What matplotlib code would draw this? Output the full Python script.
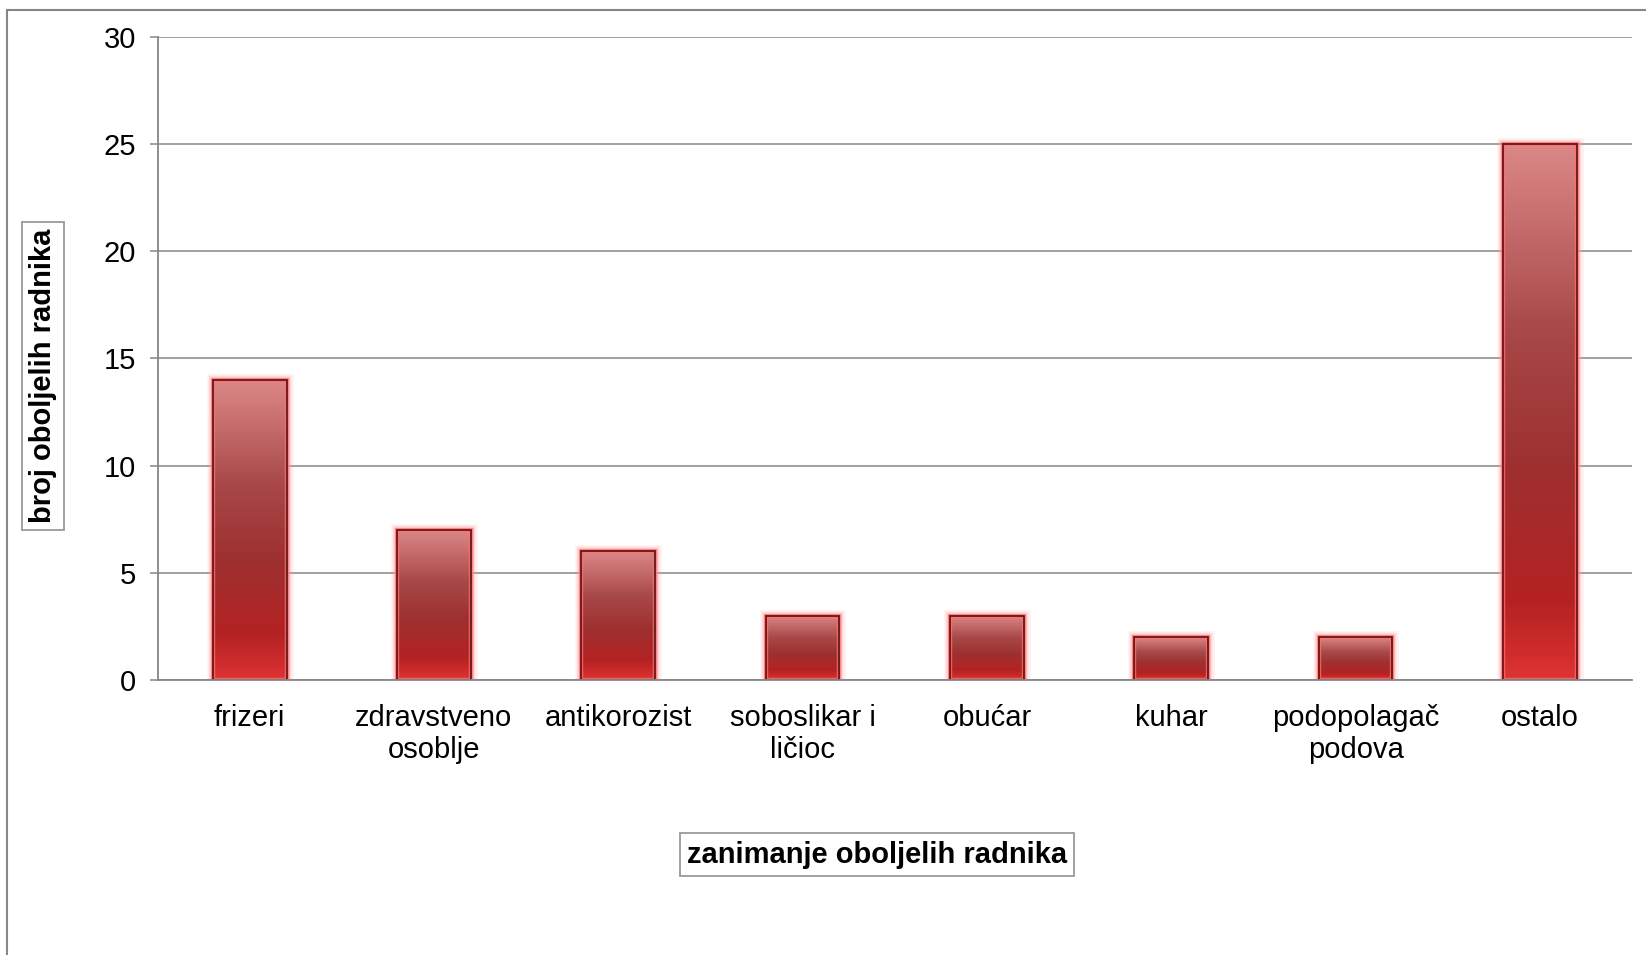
import matplotlib
matplotlib.use('Agg')
import matplotlib.pyplot as plt
import matplotlib.patches as mpatches
from matplotlib.colors import LinearSegmentedColormap
import numpy as np

# Chart data
categories = ['frizeri', 'zdravstveno\nosoblje', 'antikorozist', 'soboslikar i\nličioc',
              'obućar', 'kuhar', 'podopolagač\npodova', 'ostalo']
counts = [14, 7, 6, 3, 3, 2, 2, 25]
y_ticks = [0, 5, 10, 15, 20, 25, 30]
x_title = 'zanimanje oboljelih radnika'
y_title = 'broj oboljelih radnika'


def plot_data():
    plt.rcParams['font.family'] = ['Liberation Sans', 'DejaVu Sans']
    grid_col = '#868686'

    fig = plt.figure(figsize=(16.46, 9.55), dpi=100)
    ax = fig.add_axes([0.0957, 0.288, 0.9915 - 0.0957, 0.9616 - 0.288])

    # Outer chart frame (cropped on right and bottom)
    frame = mpatches.Rectangle((7 / 1646, -0.2), 1.5, 0.2 + 1 - 10 / 955,
                               transform=fig.transFigure, fill=False,
                               edgecolor=grid_col, linewidth=1.5, zorder=0)
    fig.patches.append(frame)

    x = np.arange(len(categories))
    width = 0.4

    # Gradient colour map from top (0) to bottom (1)
    cmap = LinearSegmentedColormap.from_list('barred', [
        (0.0, '#dc8888'),
        (0.35, '#a84848'),
        (0.6, '#9e3030'),
        (0.85, '#b42222'),
        (0.95, '#d02c2c'),
        (1.0, '#e03434'),
    ])
    grad = np.linspace(0, 1, 256).reshape(-1, 1)

    # Soft glow behind the bars
    for lw, a in [(9, 0.15), (6, 0.25), (3.5, 0.35)]:
        ax.bar(x, counts, width=width, color='none', edgecolor='#ff9a9a',
               linewidth=lw, alpha=a, zorder=2)
    bars = ax.bar(x, counts, width=width, color='none', edgecolor='#ff7070',
                  linewidth=3.2, alpha=0.75, zorder=3.5)
    for b in bars:
        x0 = b.get_x()
        ax.imshow(grad, extent=[x0, x0 + b.get_width(), 0, b.get_height()],
                  cmap=cmap, aspect='auto', origin='upper', zorder=3,
                  interpolation='bicubic')
    ax.bar(x, counts, width=width, color='none', edgecolor='#6a1616',
           linewidth=1.3, zorder=4)

    ax.set_xlim(-0.5, len(categories) - 0.5)
    ax.set_ylim(0, 30)
    ax.set_yticks(y_ticks)
    ax.set_xticks(x)
    ax.set_xticklabels(categories, fontsize=21, linespacing=1.2)
    ax.tick_params(axis='x', length=0, pad=17)
    ax.tick_params(axis='y', labelsize=21, length=5.5, width=1.1,
                   color=grid_col, pad=10)

    ax.yaxis.grid(True, color=grid_col, linewidth=1.1, zorder=1)
    ax.set_axisbelow(True)
    for side in ['top', 'right']:
        ax.spines[side].set_visible(False)
    for side in ['left', 'bottom']:
        ax.spines[side].set_color(grid_col)
        ax.spines[side].set_linewidth(1.3)
    ax.spines['bottom'].set_zorder(5)

    box = dict(boxstyle='square,pad=0.25', facecolor='white',
               edgecolor='#9a9a9a', linewidth=1.3)
    fig.text(877 / 1646, 1 - 854.5 / 955, x_title, fontsize=21,
             fontweight='bold', ha='center', va='center', bbox=box)
    fig.text(43 / 1646, 1 - 376 / 955, y_title, fontsize=21,
             fontweight='bold', ha='center', va='center', rotation=90,
             bbox=box)

    fig.savefig('out.png', dpi=100)


if __name__ == '__main__':
    plot_data()
